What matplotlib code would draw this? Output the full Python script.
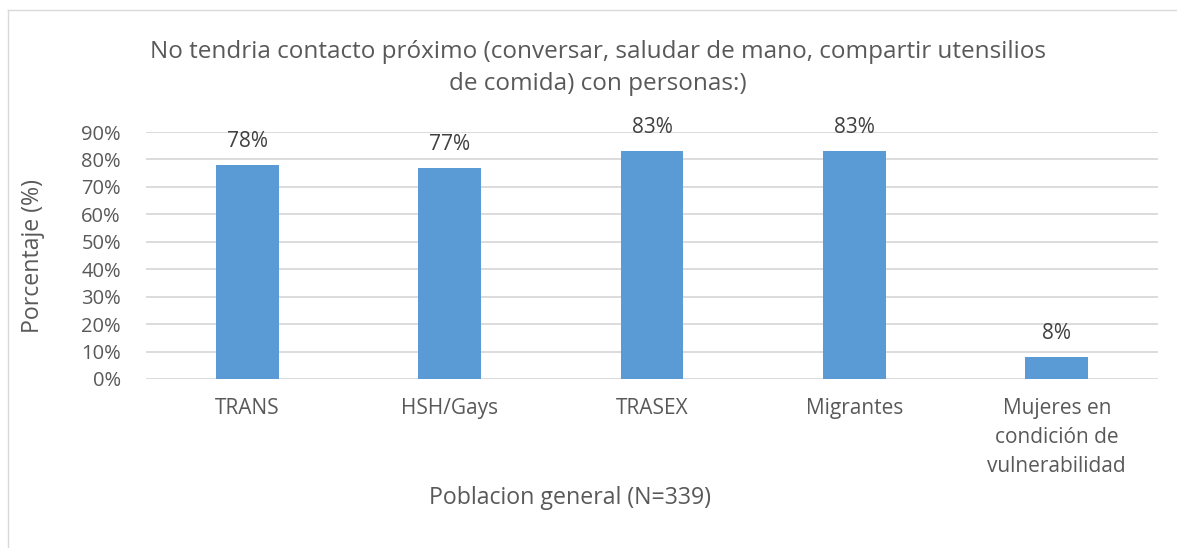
import matplotlib
matplotlib.use("Agg")
import matplotlib.pyplot as plt
from matplotlib.lines import Line2D

# Data
categories = ["TRANS", "HSH/Gays", "TRASEX", "Migrantes",
              "Mujeres en\ncondición de\nvulnerabilidad"]
values = [78, 77, 83, 83, 8]
labels = ["78%", "77%", "83%", "83%", "8%"]
yticks = [0, 10, 20, 30, 40, 50, 60, 70, 80, 90]

plt.rcParams['font.family'] = ['Open Sans', 'DejaVu Sans']
text_col = '#595959'

fig = plt.figure(figsize=(11.77, 5.48), dpi=100)
ax = fig.add_axes([146/1177, 1-379/548, (1158-146)/1177, (379-132)/548])

x = list(range(len(categories)))
bars = ax.bar(x, values, width=0.31, color='#5b9bd5', zorder=3)

for b, lab in zip(bars, labels):
    ax.annotate(lab, (b.get_x() + b.get_width()/2, b.get_height()),
                xytext=(0, 17), textcoords='offset points',
                ha='center', va='center', fontsize=15, color='#404040')

ax.set_xlim(-0.5, len(categories) - 0.5)
ax.set_ylim(0, 90)
ax.set_yticks(yticks)
ax.set_yticklabels([f"{t}%" for t in yticks], fontsize=14.5, color=text_col)
ax.set_xticks(x)
ax.set_xticklabels(categories, fontsize=15, color=text_col, linespacing=1.5, va='top')
ax.tick_params(axis='y', length=0, pad=18)
ax.tick_params(axis='x', length=0, pad=14)
ax.grid(axis='y', color='#d9d9d9', linewidth=1.3, zorder=0)
for s in ax.spines.values():
    s.set_visible(False)

fig.text(598/1177, 1-68/548,
         "No tendria contacto próximo (conversar, saludar de mano, compartir utensilios\nde comida) con personas:)",
         ha='center', va='center', fontsize=17.5, color=text_col, linespacing=1.45)
fig.text(570/1177, 1-498/548, "Poblacion general (N=339)",
         ha='center', va='center', fontsize=16.7, color=text_col)
fig.text(33/1177, 1-256/548, "Porcentaje (%)", rotation=90,
         ha='center', va='center', fontsize=16.7, color=text_col)

# light chart frame (cut off at right and bottom)
fig.add_artist(Line2D([8/1177, 1], [1-10/548, 1-10/548], color='#d9d9d9', lw=1, transform=fig.transFigure))
fig.add_artist(Line2D([8/1177, 8/1177], [0, 1-10/548], color='#d9d9d9', lw=1, transform=fig.transFigure))

fig.savefig("out.png", dpi=100)
